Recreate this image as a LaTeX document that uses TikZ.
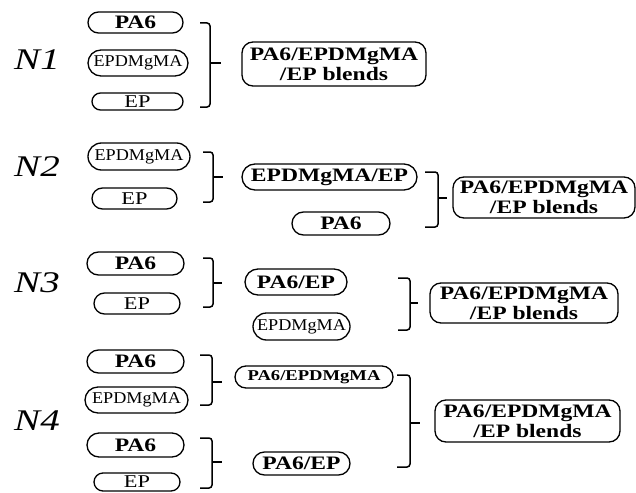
\documentclass[tikz,border=0pt]{standalone}
\usepackage{fontspec}
\setmainfont{Liberation Serif}
\newfontfamily\wide[FakeStretch=1.24]{Liberation Serif}
\newfontfamily\widen[FakeStretch=1.1]{Liberation Serif}
\newfontfamily\widel[FakeStretch=1.3]{Liberation Serif}
\usetikzlibrary{shapes.misc}
\newcommand\mybrace[7]{%
  \coordinate (#1t) at (#2,#5);
  \coordinate (#1b) at (#2,#7);
  \coordinate (#1m) at (#4,#6);
  \draw[brk] (#1t) -- (#3,#5) -- (#3,#7) -- (#1b);
  \draw[brk] (#3,#6) -- (#1m);
}
\begin{document}
\begin{tikzpicture}[x=1pt,y=-1pt,
  pill/.style={draw, line width=1.3pt, rounded rectangle, inner sep=0pt,
    font=\wide\bfseries\fontsize{19}{21}\selectfont},
  pillr/.style={pill, font=\widen\fontsize{16.5}{18}\selectfont},
  pille/.style={pill, font=\wide\fontsize{18}{20}\selectfont},
  pills/.style={pill, font=\wide\bfseries\fontsize{15}{17}\selectfont},
  res/.style={draw, line width=1.3pt, rounded corners=11pt, align=center, inner sep=0pt,
    font=\wide\bfseries\fontsize{19}{20}\selectfont},
  lab/.style={font=\widel\itshape\fontsize{30}{30}\selectfont},
  brk/.style={line width=1.5pt, rounded corners=3pt}]
\useasboundingbox[fill=white] (0,0) rectangle (636,492);

% N1
\node[lab] (l1) at (37,60) {N1};
\node[pill, minimum width=95pt, minimum height=21pt] (a1) at (135.5,22.5) {PA6};
\node[pillr, minimum width=100pt, minimum height=26pt] (a2) at (138,63) {EPDMgMA};
\node[pille, minimum width=91pt, minimum height=17pt] (a3) at (137.5,101.5) {EP};
\mybrace{ba}{200}{210}{221}{23}{63}{107}
\node[res, minimum width=184pt, minimum height=44pt] (ra) at (334,64) {PA6/EPDMgMA\\/EP blends};

% N2
\node[lab] (l2) at (37,167) {N2};
\node[pillr, minimum width=102pt, minimum height=27pt] (b1) at (139,156.5) {EPDMgMA};
\node[pille, minimum width=85pt, minimum height=21pt] (b2) at (134.5,198.5) {EP};
\mybrace{bb}{203}{213}{223}{152}{177}{202}
\node[pill, minimum width=175pt, minimum height=26pt] (b3) at (329.5,177) {EPDMgMA/EP};
\node[pill, minimum width=98pt, minimum height=23pt] (b4) at (341,223.5) {PA6};
\mybrace{bc}{425}{438}{447}{172}{198}{227}
\node[res, minimum width=182pt, minimum height=41pt] (rb) at (544,197.5) {PA6/EPDMgMA\\/EP blends};

% N3
\node[lab] (l3) at (37,283) {N3};
\node[pill, minimum width=97pt, minimum height=23pt] (c1) at (135.5,263.5) {PA6};
\node[pille, minimum width=86pt, minimum height=21pt] (c2) at (137,303.5) {EP};
\mybrace{bd}{203}{213}{222}{258}{283}{307}
\node[pill, minimum width=102pt, minimum height=26pt] (c3) at (296,282) {PA6/EP};
\node[pillr, minimum width=97pt, minimum height=27pt] (c4) at (301.5,326.5) {EPDMgMA};
\mybrace{be}{398}{410}{418}{278}{303}{330}
\node[res, minimum width=188pt, minimum height=40pt] (rc) at (524,303) {PA6/EPDMgMA\\/EP blends};

% N4
\node[lab] (l4) at (37,421) {N4};
\node[pill, minimum width=97pt, minimum height=23pt] (d1) at (135.5,361.5) {PA6};
\node[pillr, minimum width=103pt, minimum height=26pt] (d2) at (136.5,400) {EPDMgMA};
\node[pill, minimum width=97pt, minimum height=24pt] (d3) at (135.5,445) {PA6};
\node[pille, minimum width=86pt, minimum height=18pt] (d4) at (137,482) {EP};
\mybrace{bf}{200}{212}{222}{355}{382}{405}
\mybrace{bg}{200}{212}{222}{438}{462}{488}
\node[pills, minimum width=158pt, minimum height=22pt] (d5) at (314,377) {PA6/EPDMgMA};
\node[pill, minimum width=97pt, minimum height=23pt] (d6) at (301.5,463.5) {PA6/EP};
\mybrace{bh}{397}{410}{420}{375}{423}{467}
\node[res, minimum width=185pt, minimum height=42pt] (rd) at (527.5,421) {PA6/EPDMgMA\\/EP blends};
\end{tikzpicture}
\end{document}
